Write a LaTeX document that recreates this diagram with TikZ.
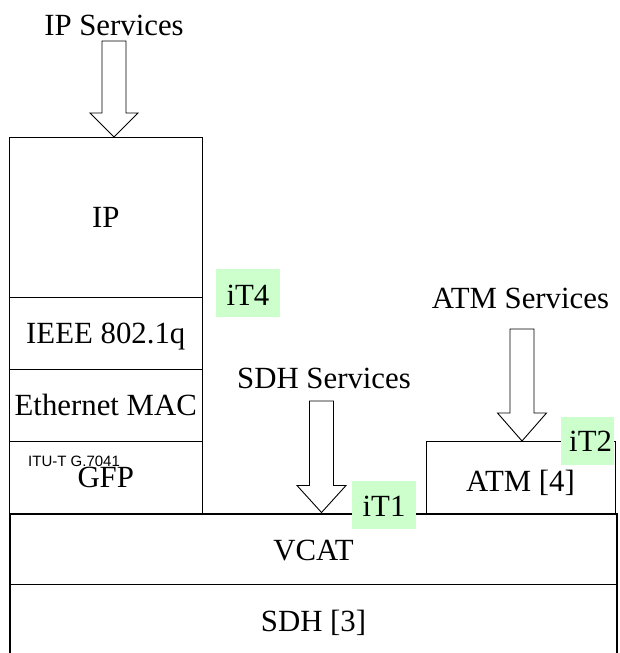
\documentclass[tikz,border=0pt]{standalone}
\usepackage{fontspec}
\setmainfont{Liberation Serif}
\newfontfamily\arialfont{Liberation Sans}
\definecolor{tagGreen}{RGB}{204,255,204}
\newcommand\hollowdown[5]{% tip, head length, head half width, shaft half width, total length
  \draw[blockarrow] (#1) -- ++({-#3},{-#2}) -- ++({#3-#4},0) -- ++(0,{-(#5-#2)})
    -- ++({2*#4},0) -- ++(0,{#5-#2}) -- ++({#3-#4},0) -- cycle;}
\begin{document}
\begin{tikzpicture}[x=1pt,y=-1pt,
  bigfont/.style={font=\fontsize{30.8}{36}\selectfont},
  layer/.style={draw, line width=1pt, inner sep=0pt, bigfont, text height=20pt, text depth=0pt},
  plain/.style={inner sep=0pt, bigfont, text depth=0pt},
  tag/.style={fill=tagGreen, inner sep=0pt, bigfont, text height=24pt, text depth=0pt, minimum height=48pt},
  svc/.style={inner sep=0pt, bigfont, anchor=base},
  blockarrow/.style={draw, fill=white, line width=0.9pt, line join=miter},
  frame/.style={line width=2pt},
]
\useasboundingbox (0,0) rectangle (619,653);

% left stack
\node[layer, minimum width=192.5pt, minimum height=160pt] (ip) at (105.75,217) {IP};
\node[layer, minimum width=192.5pt, minimum height=72pt] (ieee) at (105.75,333) {IEEE 802.1q};
\node[layer, minimum width=192.5pt, minimum height=72.5pt] (eth) at (105.75,405.25) {Ethernet MAC};
\node[layer, minimum width=192.5pt, minimum height=72.5pt] (gfp) at (105.75,477.75) {GFP};
\node[anchor=base west, inner sep=0pt, font=\arialfont\fontsize{15}{18}\selectfont] (itu) at (28,466) {ITU-T G.7041};

% ATM box
\node[layer, minimum width=189pt, minimum height=73pt, text height=27pt] (atm) at (520.5,477.5) {ATM [4]};

% VCAT / SDH
\node[plain, minimum width=607pt, minimum height=70.5pt, text height=23pt] (vcat) at (313.5,549.25) {VCAT};
\node[plain, minimum width=607pt, minimum height=68.5pt, text height=26pt] (sdh) at (313.5,618.75) {SDH [3]};
\draw[frame] (sdh.south west) |- (vcat.north east) -- (sdh.south east);
\draw[line width=1pt] (vcat.south west) -- (vcat.south east);

% services and arrows
\node[svc] (ipsvc) at (114,35) {IP Services};
\node[svc] (sdhsvc) at (324,388.3) {SDH Services};
\node[svc] (atmsvc) at (520.5,308.3) {ATM Services};
\coordinate (ipTip) at (114,137);
\coordinate (sdhTip) at (321.5,512.5);
\coordinate (atmTip) at (522,441);
\hollowdown{ipTip}{24}{24}{12}{96}
\hollowdown{sdhTip}{27}{24.5}{12}{111.5}
\hollowdown{atmTip}{28}{24.5}{12}{112}

% interface tags
\node[tag, minimum width=64pt] (t4) at (248,293) {iT4};
\node[tag, minimum width=64pt] (t1) at (384,504.7) {iT1};
\node[tag, minimum width=53pt, text width=49pt, inner xsep=2pt, align=right, text height=21.4pt] (t2) at (587.5,441) {iT2};
\end{tikzpicture}
\end{document}
